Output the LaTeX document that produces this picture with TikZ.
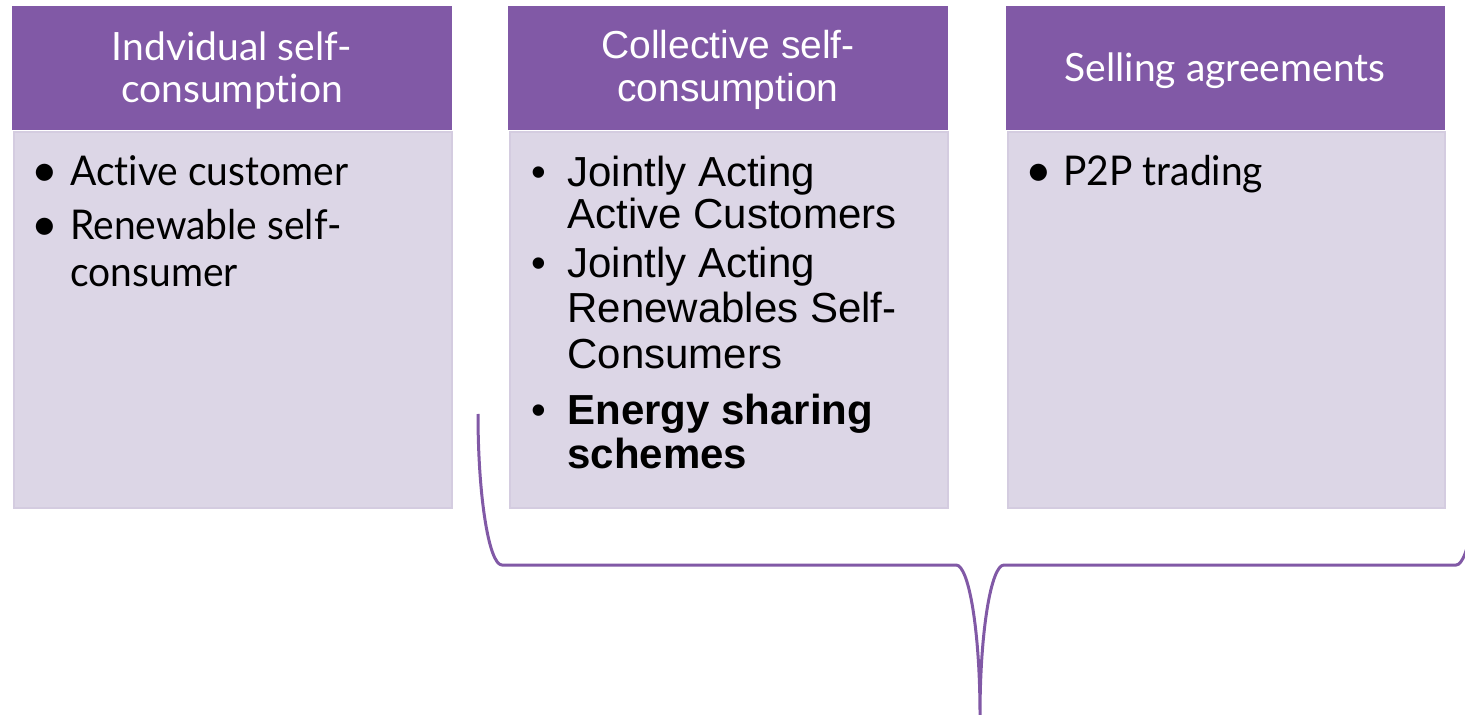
\documentclass[tikz,border=0pt]{standalone}
\usepackage{fontspec}
\setmainfont{Liberation Sans}
\newfontfamily\aptos[Ligatures=NoCommon]{Lato}
\newfontfamily\aptosbody[Ligatures=NoCommon,FakeStretch=0.95]{Lato}
\definecolor{hdr}{RGB}{129,89,166}
\definecolor{bodyfill}{RGB}{220,214,230}
\definecolor{bodyline}{RGB}{212,204,224}
\begin{document}
\begin{tikzpicture}[x=0.5pt,y=-0.5pt,
  hdrbox/.style={fill=hdr, draw=none, anchor=north west, minimum width=220pt, minimum height=62pt, inner sep=0pt},
  bodybox/.style={fill=bodyfill, draw=bodyline, line width=1pt, anchor=north west, minimum width=219pt, minimum height=188pt, inner sep=0pt},
  hdrA/.style={text=white, inner sep=0pt, anchor=base, font=\aptos\fontsize{19.5}{22}\selectfont},
  hdrB/.style={text=white, inner sep=0pt, anchor=base, font=\fontsize{19.5}{22}\selectfont},
  txtA/.style={text=black, inner sep=0pt, anchor=base west, font=\aptosbody\fontsize{20.5}{24}\selectfont},
  bulA/.style={text=black, inner sep=0pt, anchor=base west, font=\aptos\fontsize{23}{26}\selectfont},
  txtB/.style={text=black, inner sep=0pt, anchor=base west, font=\fontsize{21}{24}\selectfont},
  txtBb/.style={txtB, font=\bfseries\fontsize{21}{24}\selectfont},
  bracestyle/.style={draw=hdr, line width=1.5pt}]
\useasboundingbox (0,0) rectangle (1465,715);
\clip (0,0) rectangle (1465,715);
% boxes
\node[hdrbox] (h1) at (12,6) {};
\node[bodybox] (b1) at (13,131) {};
\node[hdrbox] (h2) at (508,6) {};
\node[bodybox] (b2) at (509,131) {};
\node[hdrbox, minimum width=219.5pt] (h3) at (1006,6) {};
\node[bodybox, minimum width=218.5pt] (b3) at (1007,131) {};
% headers
\node[hdrA] (t1a) at (232,61) {Indvidual self-};
\node[hdrA] (t1b) at (232,103) {consumption};
\node[hdrB] (t2a) at (728,59) {Collective self-};
\node[hdrB] (t2b) at (728,102) {consumption};
\node[hdrA] (t3a) at (1225,82) {Selling agreements};
% box 1 body
\node[bulA] (u1) at (31,187) {\textbullet};
\node[txtA] (l1) at (70,186) {Active customer};
\node[bulA] (u2) at (31,241) {\textbullet};
\node[txtA] (l2) at (70,240) {Renewable self-};
\node[txtA] (l3) at (70,287) {consumer};
% box 2 body
\node[txtB] (v1) at (531,187) {\textbullet};
\node[txtB] (m1) at (567,187) {Jointly Acting};
\node[txtB] (m2) at (567,229) {Active Customers};
\node[txtB] (v2) at (531,278) {\textbullet};
\node[txtB] (m3) at (567,278) {Jointly Acting};
\node[txtB] (m4) at (567,323) {Renewables Self-};
\node[txtB] (m5) at (567,369) {Consumers};
\node[txtB] (v3) at (531,425) {\textbullet};
\node[txtBb] (m6) at (567,425) {Energy sharing};
\node[txtBb] (m7) at (567,468) {schemes};
% box 3 body
\node[bulA] (w1) at (1025,187) {\textbullet};
\node[txtA] (n1) at (1063,186) {P2P trading};
% brace
\draw[bracestyle] (478,414) .. controls (478,497) and (489,565) .. (502,565)
  -- (956,565) .. controls (969,565) and (980,632) .. (980,715)
  .. controls (980,632) and (991,565) .. (1004,565)
  -- (1456,565) .. controls (1469,565) and (1480,497) .. (1480,414);
\end{tikzpicture}
\end{document}
